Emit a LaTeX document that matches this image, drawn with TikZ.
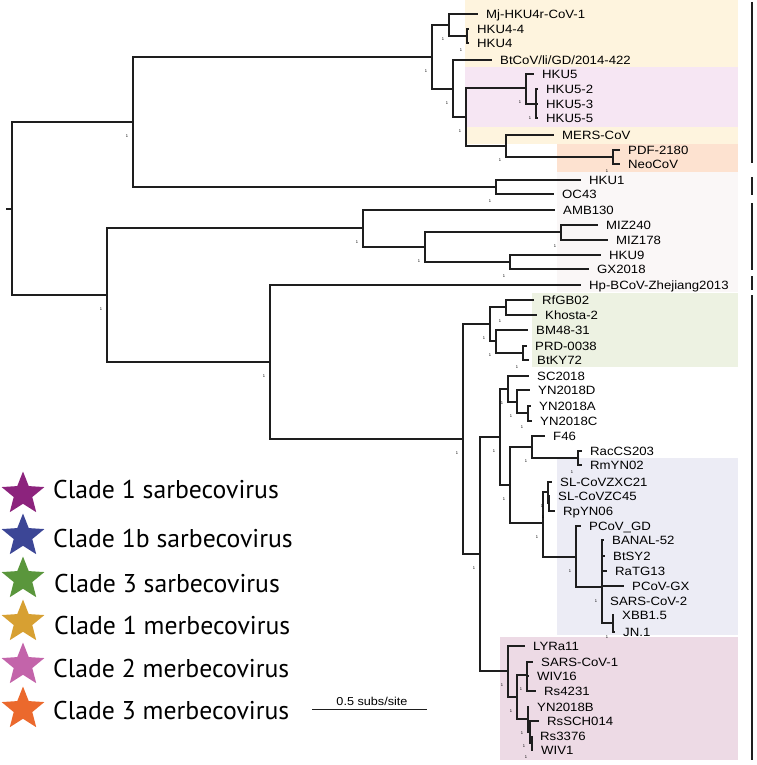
\documentclass[tikz,border=0pt]{standalone}
\usepackage{fontspec}
\setmainfont{Liberation Sans}
\newfontfamily\leaffont{Liberation Sans}[FakeStretch=1.1]
\newfontfamily\legendfont{PT Sans}
\usetikzlibrary{shapes.geometric}
\definecolor{bgyel}{RGB}{254,244,222}
\definecolor{bgpur}{RGB}{246,230,243}
\definecolor{bgora}{RGB}{253,226,208}
\definecolor{bggry}{RGB}{250,247,247}
\definecolor{bggrn}{RGB}{237,242,226}
\definecolor{bgblu}{RGB}{236,236,245}
\definecolor{bgpnk}{RGB}{237,218,229}
\definecolor{stpur}{RGB}{140,35,125}
\definecolor{stblu}{RGB}{60,70,150}
\definecolor{stgrn}{RGB}{90,150,60}
\definecolor{stgld}{RGB}{215,160,50}
\definecolor{stpnk}{RGB}{195,100,170}
\definecolor{stora}{RGB}{235,105,45}
\definecolor{treeline}{RGB}{30,30,30}
\begin{document}
\begin{tikzpicture}[x=1pt,y=-1pt,
  leaf/.style={anchor=west,inner sep=0pt,font=\leaffont\fontsize{12}{13}\selectfont,text height=8.6pt,text depth=0pt},
  br/.style={line width=1.8pt,draw=treeline},
  supmark/.style={font=\fontsize{4}{4}\selectfont,inner sep=0pt,text=black},
  cladebar/.style={line width=2.6pt,draw=treeline},
  legstar/.style={star,star points=5,star point ratio=2.3,minimum size=45pt,inner sep=0pt,draw=none},
  legtext/.style={anchor=base west,inner sep=0pt,font=\legendfont\fontsize{25.7}{28}\selectfont}]
\useasboundingbox (0,0) rectangle (756,765);
% backgrounds
\fill[bgyel] (465,0) rectangle (738,67);
\fill[bgpur] (465,67) rectangle (738,127);
\fill[bgyel] (465,127) rectangle (738,144);
\fill[bgora] (557,144) rectangle (738,172);
\fill[bggry] (557,172) rectangle (738,292);
\fill[bggrn] (532,293) rectangle (738,367);
\fill[bgblu] (557,458) rectangle (738,635);
\fill[bgpnk] (500,637) rectangle (738,760);
% clade bars
\coordinate (b1a) at (752,2);   \coordinate (b1b) at (752,163);
\coordinate (b2a) at (752,177); \coordinate (b2b) at (752,195);
\coordinate (b3a) at (752,203); \coordinate (b3b) at (752,270);
\coordinate (b4a) at (752,276); \coordinate (b4b) at (752,290);
\coordinate (b5a) at (752,295); \coordinate (b5b) at (752,760);
\foreach \a/\b in {b1a/b1b,b2a/b2b,b3a/b3b,b4a/b4b,b5a/b5b} \draw[cladebar] (\a) -- (\b);
% leaves
\node[leaf] (lMj) at (486,14) {Mj-HKU4r-CoV-1};
\node[leaf] (lHKUfourfour) at (477,29) {HKU4-4};
\node[leaf] (lHKUfour) at (477,43) {HKU4};
\node[leaf] (lBtCoV) at (500,60) {BtCoV/li/GD/2014-422};
\node[leaf] (lHKUfive) at (542,74) {HKU5};
\node[leaf] (lHKUfiveb) at (546,89) {HKU5-2};
\node[leaf] (lHKUfivec) at (546,104) {HKU5-3};
\node[leaf] (lHKUfived) at (546,118) {HKU5-5};
\node[leaf] (lMERS) at (562,135) {MERS-CoV};
\node[leaf] (lPDF) at (628,150) {PDF-2180};
\node[leaf] (lNeo) at (628,164) {NeoCoV};
\node[leaf] (lHKUone) at (589,180) {HKU1};
\node[leaf] (lOC) at (562,194) {OC43};
\node[leaf] (lAMB) at (563,210) {AMB130};
\node[leaf] (lMIZa) at (606,225) {MIZ240};
\node[leaf] (lMIZb) at (616,240) {MIZ178};
\node[leaf] (lHKUnine) at (609,255) {HKU9};
\node[leaf] (lGX) at (597,269) {GX2018};
\node[leaf] (lHp) at (589,285) {Hp-BCoV-Zhejiang2013};
\node[leaf] (lRf) at (542,300) {RfGB02};
\node[leaf] (lKh) at (545,315) {Khosta-2};
\node[leaf] (lBM) at (536,330) {BM48-31};
\node[leaf] (lPRD) at (535,346) {PRD-0038};
\node[leaf] (lBtKY) at (537,360) {BtKY72};
\node[leaf] (lSC) at (537,376) {SC2018};
\node[leaf] (lYND) at (538,390) {YN2018D};
\node[leaf] (lYNA) at (539,406) {YN2018A};
\node[leaf] (lYNC) at (540,421) {YN2018C};
\node[leaf] (lF) at (553,436) {F46};
\node[leaf] (lRac) at (590,451) {RacCS203};
\node[leaf] (lRm) at (590,465) {RmYN02};
\node[leaf] (lZXC) at (560,482) {SL-CoVZXC21};
\node[leaf] (lZC) at (558,496) {SL-CoVZC45};
\node[leaf] (lRp) at (563,511) {RpYN06};
\node[leaf] (lPGD) at (589,526) {PCoV\_GD};
\node[leaf] (lBANAL) at (612,540) {BANAL-52};
\node[leaf] (lBtSY) at (613,556) {BtSY2};
\node[leaf] (lRaTG) at (615,571) {RaTG13};
\node[leaf] (lPGX) at (632,586) {PCoV-GX};
\node[leaf] (lSARStwo) at (610,601) {SARS-CoV-2};
\node[leaf] (lXBB) at (622,615) {XBB1.5};
\node[leaf] (lJN) at (623,632) {JN.1};
\node[leaf] (lLYR) at (533,646) {LYRa11};
\node[leaf] (lSARSone) at (541,662) {SARS-CoV-1};
\node[leaf] (lWIVs) at (537,676) {WIV16};
\node[leaf] (lRsf) at (544,691) {Rs4231};
\node[leaf] (lYNB) at (537,707) {YN2018B};
\node[leaf] (lRsSCH) at (547,721) {RsSCH014};
\node[leaf] (lRst) at (540,736) {Rs3376};
\node[leaf] (lWIVo) at (541,750) {WIV1};
% internal nodes
\coordinate (stub) at (6,209);
\coordinate (root) at (12,209);
\coordinate (NME) at (133,122);
\coordinate (B) at (432,57);
\coordinate (A) at (449,25);
\coordinate (Atwo) at (467,36);
\coordinate (C) at (453,89);
\coordinate (D) at (466,117);
\coordinate (Hfive) at (526,88);
\coordinate (Hfiveb) at (536,104);
\coordinate (MG) at (506,146);
\coordinate (PN) at (613,157);
\coordinate (EM) at (496,187);
\coordinate (NB) at (107,295);
\coordinate (None) at (363,228);
\coordinate (Noneb) at (425,247);
\coordinate (MZ) at (561,232);
\coordinate (HG) at (510,262);
\coordinate (Ntwo) at (270,362);
\coordinate (S) at (463,439);
\coordinate (F) at (490,324);
\coordinate (RK) at (506,307);
\coordinate (E) at (496,341);
\coordinate (PB) at (523,353);
\coordinate (H) at (480,554);
\coordinate (G) at (500,437);
\coordinate (SC) at (508,389);
\coordinate (YD) at (517,402);
\coordinate (YAC) at (528,413);
\coordinate (I) at (510,485);
\coordinate (FR) at (532,447);
\coordinate (RR) at (578,458);
\coordinate (J) at (543,523);
\coordinate (SL) at (548,492);
\coordinate (SLb) at (549,503);
\coordinate (K) at (576,557);
\coordinate (Ktwo) at (602,587);
\coordinate (XJ) at (613,623);
\coordinate (L) at (508,671);
\coordinate (M) at (517,697);
\coordinate (SR) at (527,675);
\coordinate (N) at (528,719);
\coordinate (Nb) at (530,732);
\coordinate (Nc) at (532,743);
% edges
\draw[br] (stub) -- (root);
\foreach \p/\c in {root/NME,root/NB,NME/B,NME/EM,B/A,B/C,A/Atwo,C/D,D/Hfive,D/MG,Hfive/Hfiveb,MG/PN,
  NB/None,NB/Ntwo,None/Noneb,Noneb/MZ,Noneb/HG,Ntwo/S,S/F,S/H,F/RK,F/E,E/PB,H/G,H/L,G/SC,G/I,SC/YD,YD/YAC,
  I/FR,I/J,FR/RR,J/SL,J/K,SL/SLb,K/Ktwo,Ktwo/XJ,L/M,M/SR,M/N,N/Nb,Nb/Nc}
  \draw[br] (\p) |- (\c);
\foreach \p/\c in {A/lMj,Atwo/lHKUfourfour,Atwo/lHKUfour,C/lBtCoV,Hfive/lHKUfive,Hfiveb/lHKUfiveb,Hfiveb/lHKUfivec,
  Hfiveb/lHKUfived,MG/lMERS,PN/lPDF,PN/lNeo,EM/lHKUone,EM/lOC,None/lAMB,MZ/lMIZa,MZ/lMIZb,HG/lHKUnine,HG/lGX,
  Ntwo/lHp,RK/lRf,RK/lKh,E/lBM,PB/lPRD,PB/lBtKY,SC/lSC,YD/lYND,YAC/lYNA,YAC/lYNC,FR/lF,RR/lRac,RR/lRm,
  SL/lZXC,SLb/lZC,SLb/lRp,K/lPGD,Ktwo/lBANAL,Ktwo/lBtSY,Ktwo/lRaTG,Ktwo/lPGX,Ktwo/lSARStwo,XJ/lXBB,XJ/lJN,
  L/lLYR,SR/lSARSone,SR/lWIVs,SR/lRsf,N/lYNB,Nb/lRsSCH,Nc/lRst,Nc/lWIVo}
  \draw[br] (\p) |- ([xshift=-8pt]\c.west);
% support values
\foreach \n in {NME,B,A,Atwo,C,D,Hfive,Hfiveb,MG,PN,EM,NB,None,Noneb,MZ,HG,Ntwo,S,F,RK,E,PB,H,G,SC,YD,YAC,
  I,FR,RR,J,SL,SLb,K,Ktwo,XJ,L,M,SR,N,Nb,Nc}
  \node[supmark] (s\n) at ([shift={(-6pt,-14pt)}]\n) {1};
% legend
\node[legstar,fill=stpur] (st1) at (23,494) {};
\node[legstar,fill=stblu] (st2) at (23,536) {};
\node[legstar,fill=stgrn] (st3) at (23,579) {};
\node[legstar,fill=stgld] (st4) at (23,622) {};
\node[legstar,fill=stpnk] (st5) at (23,665) {};
\node[legstar,fill=stora] (st6) at (23,709) {};
\node[legtext] (lg1) at (53,498) {Clade 1 sarbecovirus};
\node[legtext] (lg2) at (53,547) {Clade 1b sarbecovirus};
\node[legtext] (lg3) at (54,592) {Clade 3 sarbecovirus};
\node[legtext] (lg4) at (54,634) {Clade 1 merbecovirus};
\node[legtext] (lg5) at (53,677) {Clade 2 merbecovirus};
\node[legtext] (lg6) at (53,719) {Clade 3 merbecovirus};
% scale bar
\coordinate (sbl) at (312,709);
\coordinate (sbr) at (427,709);
\draw[line width=1pt,draw=treeline] (sbl) -- (sbr);
\node[anchor=base,inner sep=0pt,font=\leaffont\fontsize{11.5}{12}\selectfont] (sbt) at (372,705) {0.5 subs/site};
\end{tikzpicture}
\end{document}
